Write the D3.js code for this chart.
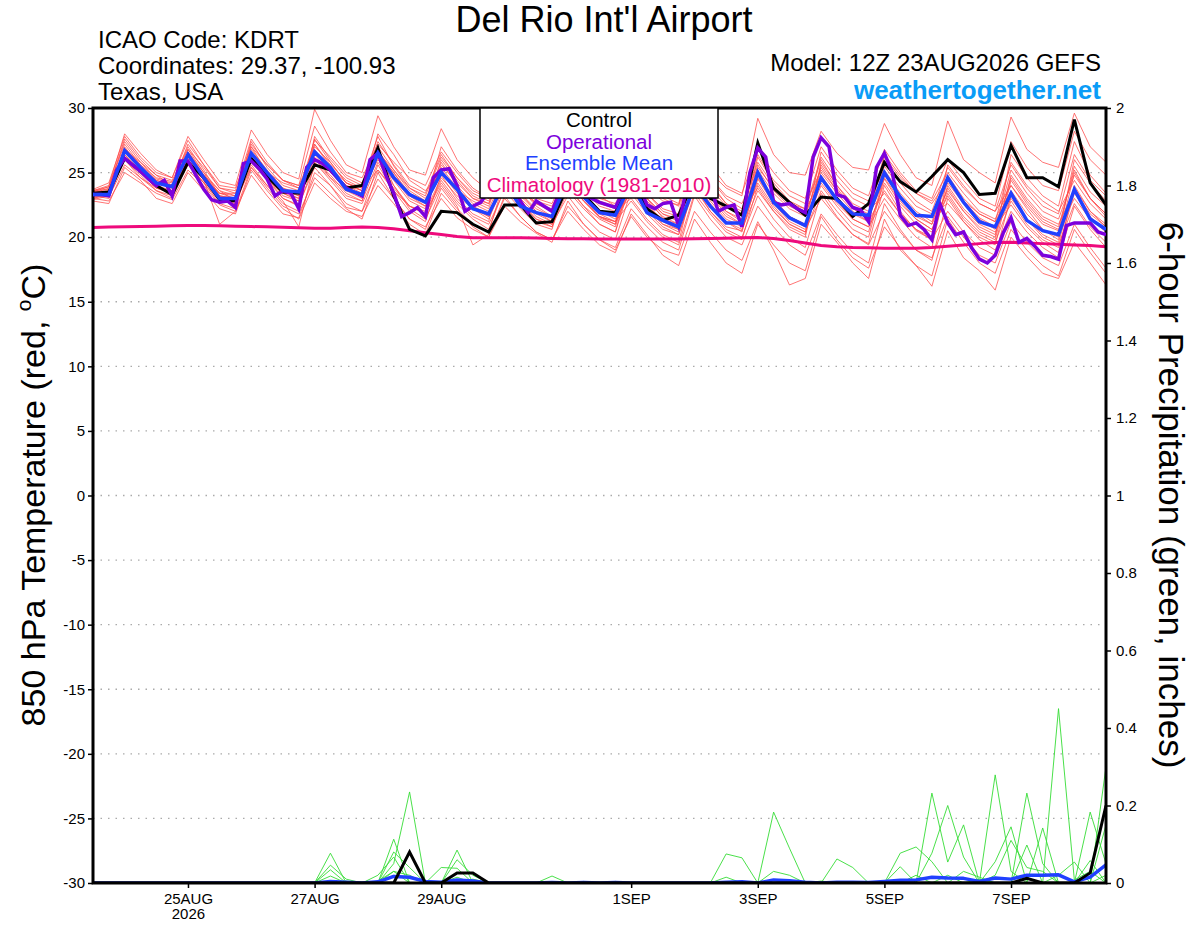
<!DOCTYPE html>
<html>
<head>
<meta charset="utf-8">
<script src="https://cdn.jsdelivr.net/npm/d3@7"></script>
<style>
  body { margin: 0; background: #fff; }
  svg { display: block; font-family: "Liberation Sans", Arial, sans-serif; }
</style>
</head>
<body>
<div id="root"></div>
<script>
const runStart = "2026-08-23T12:00:00Z";
const runEnd = "2026-09-08T12:00:00Z";

const tempTicks = [-30, -25, -20, -15, -10, -5, 0, 5, 10, 15, 20, 25, 30];
const precipTicks = [0, 0.2, 0.4, 0.6, 0.8, 1, 1.2, 1.4, 1.6, 1.8, 2];
const dateTicks = ["2026-08-25", "2026-08-27", "2026-08-29", "2026-09-01", "2026-09-03", "2026-09-05", "2026-09-07"];
const dateLabels = ["25AUG", "27AUG", "29AUG", "1SEP", "3SEP", "5SEP", "7SEP"];

const legendLabels = ["Control", "Operational", "Ensemble Mean", "Climatology (1981-2010)"];

// 6-hourly, 23AUG 12Z .. 8SEP 12Z
const controlTemp = [23.4, 23.5, 26.1, 25.1, 24.0, 23.3, 25.8, 24.6, 22.9, 22.8, 26.1, 24.7, 23.5, 23.4, 25.6, 25.2,
  23.8, 24.0, 26.9, 23.2, 20.6, 20.1, 22.0, 21.9, 21.0, 20.4, 22.5, 22.5, 21.1, 21.2, 24.0, 23.3,
  22.0, 21.9, 24.5, 22.2, 21.3, 21.7, 24.5, 23.0, 22.4, 21.7, 27.3, 23.8, 22.7, 21.7, 23.1, 23.0,
  21.6, 22.6, 25.8, 24.3, 23.5, 24.7, 26.0, 25.0, 23.3, 23.4, 27.1, 24.6, 24.6, 23.9, 29.1, 24.2, 22.5];

const meanTemp = [23.3, 23.3, 26.7, 25.4, 24.2, 23.9, 26.4, 24.6, 23.0, 23.0, 26.5, 25.0, 23.6, 23.5, 26.6, 25.4,
  23.7, 23.3, 26.5, 24.6, 23.3, 22.7, 25.0, 23.7, 22.2, 21.8, 24.2, 22.4, 21.9, 21.6, 24.4, 23.1,
  21.9, 21.7, 24.2, 21.9, 21.3, 20.8, 24.0, 22.4, 21.1, 21.1, 25.0, 22.7, 21.5, 20.9, 24.6, 22.9,
  21.8, 21.7, 25.0, 23.1, 21.7, 21.6, 24.6, 22.7, 21.2, 20.8, 23.4, 21.3, 20.5, 20.2, 23.7, 21.4, 20.6];

const climoTemp = [20.75, 20.78, 20.8, 20.82, 20.85, 20.88, 20.9, 20.9, 20.88, 20.85, 20.82, 20.8, 20.77, 20.73, 20.7, 20.7,
  20.75, 20.78, 20.75, 20.65, 20.5, 20.35, 20.2, 20.05, 19.95, 19.95, 19.95, 19.95, 19.93, 19.9, 19.88, 19.87,
  19.86, 19.85, 19.85, 19.85, 19.85, 19.85, 19.87, 19.9, 19.92, 19.95, 19.97, 19.9, 19.75, 19.55, 19.35, 19.25,
  19.2, 19.18, 19.15, 19.15, 19.15, 19.2, 19.3, 19.4, 19.5, 19.58, 19.6, 19.55, 19.5, 19.45, 19.4, 19.35, 19.25];

// operational run is 3-hourly
const operationalTemp = [23.3, 23.3, 23.2, 25.2, 26.1, 25.6, 25.1, 24.5, 24.0, 24.4, 23.2, 25.9, 25.9, 24.8, 23.7, 22.9,
  22.7, 22.8, 22.3, 25.7, 25.9, 25.3, 24.5, 23.2, 23.6, 23.4, 22.2, 25.4, 26.0, 25.7, 25.2, 24.5,
  23.8, 23.5, 23.2, 26.0, 26.5, 24.8, 23.4, 21.6, 21.9, 22.3, 21.6, 24.6, 25.2, 25.3, 24.0, 22.0,
  22.4, 22.7, 23.6, 24.6, 25.0, 24.0, 22.8, 21.9, 22.8, 22.4, 22.0, 23.6, 24.6, 24.0, 23.3, 23.0,
  22.7, 22.5, 22.3, 23.6, 25.0, 24.0, 22.5, 22.2, 22.6, 22.7, 20.9, 23.8, 26.0, 25.0, 24.0, 22.0,
  22.3, 22.5, 20.8, 25.0, 26.9, 26.2, 22.7, 22.5, 22.6, 22.2, 21.9, 26.2, 27.7, 27.0, 23.3, 23.1,
  22.3, 22.1, 21.2, 25.4, 26.5, 25.0, 21.7, 20.9, 21.1, 20.6, 19.8, 22.6, 21.1, 20.2, 20.4, 19.2,
  18.3, 18.0, 18.6, 20.3, 21.5, 19.6, 19.9, 19.3, 18.6, 18.5, 18.3, 20.9, 21.1, 21.1, 21.1, 20.4, 20.2];

const memberTemps = [
  [23.6, 24.0, 28.0, 26.5, 25.2, 24.6, 27.8, 26.0, 24.3, 24.0, 28.3, 26.4, 25.0, 24.5, 29.9, 27.5, 25.6, 25.0, 29.4, 27.0, 25.2, 24.8,
    28.4, 26.0, 24.6, 23.6, 26.8, 25.0, 23.8, 23.5, 26.5, 25.6, 24.8, 23.4, 26.0, 24.0, 23.2, 22.6, 27.0, 25.0, 23.8, 23.2,
    29.2, 26.4, 25.0, 24.8, 28.2, 26.5, 25.4, 25.2, 28.8, 26.4, 24.6, 24.0, 29.0, 26.0, 25.0, 24.2, 29.3, 26.8, 25.8, 25.4, 29.6, 27.0, 25.8],
  [23.0, 22.8, 25.0, 24.2, 23.4, 22.9, 25.2, 24.0, 22.5, 22.0, 24.8, 23.2, 21.8, 21.5, 25.0, 24.0, 22.3, 22.0, 24.5, 23.0, 21.4, 20.8,
    23.0, 21.5, 20.6, 20.0, 22.4, 21.2, 20.3, 19.6, 22.8, 21.0, 19.8, 19.0, 21.6, 20.0, 19.0, 18.6, 22.0, 20.4, 19.0, 18.2,
    21.2, 19.0, 16.3, 16.8, 21.0, 19.6, 18.0, 16.8, 21.4, 19.0, 17.8, 16.2, 20.5, 18.4, 17.4, 15.9, 20.0, 18.5, 17.2, 16.8, 19.6, 18.0, 16.3],
  [23.4, 23.8, 27.6, 26.0, 24.8, 24.0, 26.8, 25.0, 23.6, 23.2, 27.4, 25.4, 24.0, 23.6, 27.5, 26.2, 24.8, 24.2, 27.8, 25.5, 23.8, 23.0,
    25.2, 23.6, 22.4, 21.6, 25.0, 23.2, 22.0, 21.2, 24.2, 22.8, 21.5, 21.0, 25.5, 23.8, 22.8, 22.5, 26.5, 24.5, 23.0, 22.2,
    25.8, 24.0, 22.6, 22.0, 26.0, 24.0, 22.4, 21.6, 26.2, 24.6, 23.4, 22.8, 25.0, 23.4, 22.0, 21.4, 24.0, 22.4, 21.0, 20.5, 25.5, 23.5, 22.4],
  [23.2, 23.4, 26.8, 25.8, 24.5, 24.2, 27.0, 25.2, 23.2, 23.0, 26.5, 25.0, 24.2, 23.8, 26.0, 24.8, 23.4, 22.8, 26.8, 24.0, 22.4, 21.8,
    24.4, 22.8, 21.6, 21.0, 23.6, 22.2, 21.0, 20.6, 25.0, 23.2, 22.0, 21.8, 23.4, 21.8, 20.6, 20.2, 24.0, 22.0, 20.8, 20.5,
    24.5, 22.6, 21.2, 20.6, 23.0, 21.5, 20.2, 19.5, 24.0, 22.0, 20.5, 19.8, 22.0, 20.4, 19.2, 18.6, 23.2, 21.4, 20.0, 19.4, 22.6, 20.8, 19.6],
  [23.5, 23.9, 27.2, 25.6, 24.6, 24.3, 26.2, 24.5, 23.4, 23.4, 26.8, 25.2, 23.8, 23.2, 27.0, 25.8, 24.2, 23.6, 26.0, 24.4, 22.8, 22.2,
    26.0, 24.4, 23.0, 22.4, 25.6, 24.0, 22.8, 22.4, 24.8, 23.0, 21.6, 21.2, 24.6, 23.0, 21.8, 21.2, 26.0, 24.2, 22.6, 22.0,
    23.8, 22.0, 20.6, 20.0, 25.6, 23.8, 22.2, 21.6, 24.5, 22.6, 21.4, 20.6, 23.8, 22.0, 20.6, 20.0, 26.4, 24.6, 23.2, 22.4, 27.4, 24.8, 23.4],
  [23.3, 23.5, 26.4, 25.0, 24.0, 23.6, 26.6, 25.0, 23.0, 22.6, 25.6, 24.0, 22.6, 22.0, 27.8, 26.0, 24.6, 24.0, 27.0, 25.2, 23.6, 22.8,
    25.8, 24.0, 22.6, 22.0, 24.0, 22.6, 21.4, 20.8, 23.6, 22.2, 21.0, 20.4, 24.8, 23.0, 21.5, 20.8, 25.2, 23.2, 21.8, 21.0,
    26.2, 24.2, 22.8, 22.2, 24.2, 22.6, 21.4, 20.8, 23.0, 21.4, 20.0, 19.2, 24.6, 22.8, 21.5, 20.8, 22.5, 20.8, 19.6, 18.8, 24.0, 22.0, 21.0],
  [22.9, 23.2, 26.0, 24.8, 23.6, 23.0, 25.8, 24.2, 22.8, 22.6, 26.0, 24.4, 23.0, 22.5, 25.4, 24.0, 22.6, 22.0, 25.6, 23.6, 22.0, 21.2,
    24.8, 23.0, 21.8, 21.2, 26.0, 24.4, 23.0, 22.6, 25.4, 23.6, 22.4, 22.0, 23.0, 21.4, 20.2, 19.6, 24.6, 22.8, 21.4, 20.8,
    25.0, 23.0, 21.6, 21.0, 24.8, 23.0, 21.8, 21.2, 25.5, 23.8, 22.4, 21.8, 22.6, 21.2, 20.0, 19.4, 24.4, 22.6, 21.2, 20.6, 23.0, 21.4, 20.4],
  [23.7, 24.2, 27.8, 26.2, 25.0, 24.6, 27.5, 25.6, 24.0, 23.8, 27.0, 25.6, 24.4, 24.0, 28.6, 26.6, 25.0, 24.6, 27.2, 25.8, 24.6, 24.0,
    26.6, 25.0, 23.6, 23.0, 26.4, 24.8, 23.4, 23.0, 25.8, 24.2, 23.0, 22.6, 25.0, 23.4, 22.2, 21.8, 27.6, 25.6, 24.0, 23.4,
    26.8, 25.0, 23.6, 23.0, 27.0, 25.2, 23.8, 23.2, 26.8, 25.0, 23.6, 23.0, 26.0, 24.4, 23.0, 22.4, 27.4, 25.4, 24.0, 23.6, 28.2, 26.0, 24.8],
  [22.8, 22.6, 25.4, 24.4, 23.0, 22.6, 25.0, 23.6, 22.2, 21.8, 25.2, 23.6, 22.2, 21.4, 24.2, 23.0, 22.0, 21.6, 24.0, 22.6, 21.0, 20.2,
    23.4, 22.0, 20.8, 20.0, 23.2, 21.6, 20.4, 19.8, 22.4, 21.0, 19.8, 19.2, 22.2, 20.8, 19.6, 19.0, 23.2, 21.4, 20.0, 19.4,
    22.4, 20.8, 19.4, 18.6, 21.8, 20.2, 18.8, 18.0, 22.6, 20.6, 19.0, 18.4, 21.6, 20.0, 18.6, 18.0, 21.2, 19.6, 18.4, 17.8, 21.0, 19.2, 17.6],
  [23.1, 23.6, 26.2, 25.2, 24.2, 23.8, 26.0, 24.6, 23.4, 23.2, 27.2, 25.6, 24.4, 24.0, 26.8, 25.2, 23.6, 23.0, 26.4, 25.0, 23.4, 22.8,
    25.4, 23.8, 22.4, 21.8, 24.6, 23.0, 21.8, 21.2, 24.0, 22.4, 21.0, 20.4, 24.2, 22.6, 21.2, 20.6, 25.8, 24.0, 22.6, 21.8,
    24.8, 23.0, 21.4, 20.8, 26.6, 24.8, 23.4, 22.8, 25.2, 23.4, 22.0, 21.2, 24.2, 22.6, 21.4, 20.6, 25.2, 23.4, 22.0, 21.4, 24.8, 23.0, 21.8],
  [23.4, 23.2, 27.0, 25.4, 24.0, 23.4, 26.4, 24.8, 23.6, 22.8, 26.2, 24.8, 23.4, 22.8, 26.6, 25.2, 24.0, 23.4, 28.0, 26.4, 24.4, 23.6,
    25.0, 23.4, 22.2, 21.4, 24.2, 22.8, 21.4, 21.0, 24.6, 22.8, 21.6, 21.0, 25.2, 23.4, 22.0, 21.6, 24.8, 23.2, 22.0, 21.2,
    25.6, 23.6, 22.4, 21.8, 25.0, 23.4, 22.0, 21.2, 23.6, 21.8, 20.6, 20.0, 25.6, 24.0, 22.6, 22.0, 24.0, 22.2, 20.6, 19.8, 25.0, 23.0, 21.6],
  [23.6, 23.7, 26.6, 25.4, 24.4, 24.0, 27.2, 25.6, 23.8, 23.4, 25.8, 24.4, 23.4, 23.0, 27.2, 25.6, 24.4, 23.8, 27.4, 25.6, 24.0, 23.4,
    26.4, 24.6, 23.4, 22.8, 25.2, 23.6, 22.6, 22.0, 26.2, 24.4, 23.2, 22.4, 24.4, 22.8, 21.6, 21.0, 25.4, 23.6, 22.0, 21.4,
    25.2, 23.4, 22.2, 21.6, 25.4, 23.6, 22.2, 21.6, 25.0, 23.2, 21.8, 21.0, 24.8, 23.0, 21.8, 21.2, 23.6, 21.8, 20.6, 20.0, 26.0, 24.2, 22.8],
  [23.0, 23.3, 26.0, 24.6, 23.6, 23.2, 25.6, 24.2, 23.2, 22.8, 25.4, 23.8, 22.4, 21.8, 24.6, 23.4, 22.2, 21.4, 25.0, 23.0, 21.4, 20.6,
    23.8, 22.2, 21.0, 20.4, 24.4, 22.8, 21.6, 21.0, 23.2, 21.6, 20.4, 19.8, 23.6, 22.0, 20.8, 20.2, 23.8, 22.0, 20.6, 20.0,
    23.2, 21.4, 20.0, 19.2, 23.4, 21.6, 20.2, 19.4, 22.0, 20.4, 19.0, 18.2, 23.0, 21.2, 19.8, 19.0, 22.0, 20.4, 19.2, 18.4, 22.4, 20.6, 19.2],
  [23.3, 23.1, 25.6, 24.6, 23.8, 23.4, 26.2, 24.6, 23.0, 22.4, 26.6, 24.8, 23.2, 22.8, 26.2, 24.6, 23.6, 23.2, 26.6, 25.0, 23.2, 22.6,
    27.0, 25.2, 23.8, 23.0, 25.4, 23.8, 22.4, 21.6, 24.4, 23.0, 22.0, 21.4, 23.8, 22.2, 21.0, 20.4, 25.0, 23.0, 21.6, 21.0,
    24.2, 22.4, 21.0, 20.4, 24.6, 22.8, 21.4, 20.8, 24.2, 22.4, 21.0, 20.4, 23.4, 21.6, 20.4, 19.8, 24.8, 23.0, 21.6, 21.0, 23.6, 21.8, 20.8],
  [23.5, 23.6, 26.9, 25.6, 24.4, 24.0, 26.4, 24.8, 23.2, 23.0, 26.0, 24.6, 23.8, 23.4, 27.2, 25.4, 23.8, 23.2, 26.2, 24.6, 23.0, 22.4,
    25.6, 24.2, 23.0, 22.6, 25.8, 24.0, 22.6, 22.0, 25.2, 23.6, 22.6, 22.2, 25.6, 24.2, 23.0, 22.4, 26.4, 24.6, 23.2, 22.6,
    25.4, 23.8, 22.6, 22.2, 26.2, 24.4, 23.0, 22.4, 25.8, 24.2, 22.8, 22.0, 25.4, 23.8, 22.6, 22.0, 25.6, 23.8, 22.4, 21.8, 26.4, 24.4, 23.2],
  [23.2, 23.0, 26.2, 25.0, 23.8, 23.4, 25.6, 24.2, 22.6, 22.2, 26.4, 24.6, 23.0, 22.4, 25.8, 24.4, 23.0, 22.6, 25.2, 23.8, 22.4, 21.8,
    24.2, 22.6, 21.4, 20.6, 23.8, 22.4, 21.2, 20.8, 24.8, 23.0, 21.8, 21.2, 22.8, 21.2, 20.0, 19.4, 23.4, 21.8, 20.4, 19.8,
    24.0, 22.2, 21.0, 20.4, 23.6, 22.0, 20.6, 20.0, 24.6, 22.8, 21.4, 20.6, 23.2, 21.4, 20.2, 19.6, 22.8, 21.0, 19.8, 19.2, 23.4, 21.6, 20.4],
  [23.6, 23.9, 27.4, 25.8, 24.8, 24.4, 26.8, 25.4, 23.8, 23.6, 27.6, 25.8, 24.4, 23.8, 26.4, 25.0, 24.0, 23.6, 26.6, 25.2, 23.8, 23.2,
    26.2, 24.6, 23.2, 22.6, 25.4, 23.8, 22.6, 22.2, 25.6, 24.0, 22.8, 22.4, 24.0, 22.4, 21.4, 21.0, 25.6, 23.8, 22.4, 21.8,
    26.4, 24.4, 23.2, 22.6, 25.2, 23.6, 22.4, 21.8, 26.4, 24.8, 23.4, 22.6, 24.4, 22.8, 21.8, 21.2, 25.8, 24.0, 22.8, 22.0, 24.4, 22.6, 21.4],
  [23.4, 23.4, 26.8, 25.2, 24.2, 23.8, 26.0, 24.4, 23.0, 22.8, 26.2, 24.8, 23.6, 23.2, 26.6, 25.4, 24.2, 23.8, 25.2, 23.6, 22.4, 22.0,
    24.6, 23.2, 22.2, 21.6, 25.0, 23.4, 22.2, 21.6, 23.8, 22.4, 21.4, 20.8, 24.6, 23.0, 21.8, 21.4, 24.4, 22.6, 21.2, 20.6,
    23.6, 22.0, 20.8, 20.2, 25.8, 24.0, 22.6, 22.0, 23.4, 21.8, 20.6, 19.8, 24.0, 22.2, 21.0, 20.4, 23.0, 21.4, 20.2, 19.6, 23.8, 22.0, 20.8],
  [23.0, 23.4, 26.4, 25.2, 23.8, 23.6, 26.6, 24.8, 23.4, 23.0, 27.0, 25.0, 23.6, 23.0, 27.6, 25.8, 24.2, 23.6, 26.8, 24.8, 23.2, 22.4,
    25.0, 23.6, 22.8, 22.2, 24.8, 23.4, 22.0, 21.4, 24.4, 22.8, 21.6, 21.2, 23.6, 22.2, 21.0, 20.6, 24.2, 22.4, 21.2, 20.4,
    24.6, 22.8, 21.6, 21.0, 24.0, 22.4, 21.0, 20.4, 24.8, 23.0, 21.6, 21.0, 23.6, 22.0, 20.8, 20.2, 24.6, 22.8, 21.4, 20.8, 25.2, 23.0, 21.8],
  [23.2, 23.6, 26.0, 25.0, 24.0, 23.4, 26.0, 24.4, 21.0, 22.0, 25.4, 24.0, 22.8, 20.8, 25.8, 24.6, 23.2, 22.8, 25.8, 24.0, 22.2, 21.4,
    24.0, 22.4, 19.4, 20.2, 23.0, 21.6, 20.4, 19.8, 22.0, 20.6, 19.4, 18.8, 21.8, 20.2, 18.6, 17.8, 21.4, 19.6, 18.0, 17.2,
    21.0, 19.4, 18.0, 17.4, 21.6, 19.8, 18.4, 17.6, 20.8, 19.2, 17.8, 17.0, 21.4, 19.6, 18.0, 17.2, 20.6, 19.0, 17.8, 17.0, 20.6, 18.8, 17.2]
];

const controlPrecip = [0, 0, 0, 0, 0, 0, 0, 0, 0, 0, 0, 0, 0, 0, 0, 0, 0, 0, 0, 0,
  0.08, 0, 0, 0.026, 0.026, 0, 0, 0, 0, 0, 0, 0, 0, 0, 0, 0, 0, 0, 0, 0,
  0, 0, 0, 0, 0, 0, 0, 0, 0, 0, 0, 0, 0, 0, 0, 0, 0, 0, 0, 0.012, 0, 0, 0, 0.026, 0.2];

const meanPrecip = [0, 0, 0, 0, 0, 0, 0, 0, 0, 0, 0, 0, 0, 0, 0, 0.004, 0.002, 0, 0.003, 0.017,
  0.015, 0.004, 0.002, 0.008, 0.005, 0, 0, 0, 0, 0.001, 0, 0.001, 0, 0.001, 0, 0, 0, 0, 0, 0,
  0.002, 0.003, 0, 0.008, 0.006, 0.002, 0, 0.002, 0.002, 0.001, 0.004, 0.007, 0.008, 0.015, 0.013,
  0.012, 0.004, 0.013, 0.01, 0.02, 0.02, 0.021, 0.003, 0.015, 0.047];

const memberPrecips = [
  [0, 0, 0, 0, 0, 0, 0, 0, 0, 0, 0, 0, 0, 0, 0, 0.077, 0, 0, 0, 0.05, 0.235, 0, 0, 0, 0, 0, 0, 0, 0, 0, 0, 0, 0,
    0, 0, 0, 0, 0, 0, 0, 0.075, 0.065, 0, 0, 0, 0, 0, 0, 0, 0, 0, 0, 0, 0.077, 0.2, 0.067, 0, 0, 0, 0, 0, 0.45, 0.008, 0.03, 0],
  [0, 0, 0, 0, 0, 0, 0, 0, 0, 0, 0, 0, 0, 0, 0, 0.046, 0.01, 0, 0, 0.113, 0, 0, 0, 0.085, 0, 0, 0, 0, 0, 0, 0, 0, 0,
    0, 0, 0, 0, 0, 0, 0, 0, 0, 0, 0.183, 0.09, 0, 0, 0, 0, 0, 0, 0, 0, 0, 0, 0, 0, 0.279, 0.03, 0, 0.142, 0, 0, 0, 0.3],
  [0, 0, 0, 0, 0, 0, 0, 0, 0, 0, 0, 0, 0, 0, 0, 0.034, 0, 0, 0, 0.08, 0.04, 0, 0, 0.06, 0.02, 0, 0, 0, 0, 0, 0, 0, 0,
    0, 0, 0, 0, 0, 0, 0, 0, 0, 0, 0, 0, 0, 0, 0.062, 0.04, 0, 0, 0, 0, 0.232, 0.054, 0.15, 0, 0, 0, 0.098, 0, 0, 0, 0.183, 0.05],
  [0, 0, 0, 0, 0, 0, 0, 0, 0, 0, 0, 0, 0, 0, 0, 0.018, 0, 0, 0.02, 0.067, 0, 0, 0.04, 0.038, 0, 0, 0, 0, 0, 0, 0, 0, 0,
    0, 0, 0, 0, 0, 0, 0, 0.015, 0, 0, 0, 0, 0, 0, 0, 0, 0, 0, 0.077, 0.093, 0.055, 0, 0, 0, 0.055, 0.145, 0, 0, 0.02, 0.054, 0, 0.15],
  [0, 0, 0, 0, 0, 0, 0, 0, 0, 0, 0, 0, 0, 0, 0, 0, 0, 0, 0, 0.03, 0.02, 0, 0, 0.015, 0, 0, 0, 0, 0, 0.018, 0, 0, 0,
    0, 0, 0, 0, 0, 0, 0, 0, 0, 0, 0.03, 0.02, 0, 0, 0, 0, 0, 0, 0.042, 0, 0, 0, 0.03, 0.015, 0, 0, 0.232, 0.05, 0, 0, 0, 0],
  [0, 0, 0, 0, 0, 0, 0, 0, 0, 0, 0, 0, 0, 0, 0, 0, 0, 0, 0.005, 0.03, 0, 0, 0, 0, 0.01, 0, 0, 0, 0, 0, 0, 0, 0,
    0, 0, 0, 0, 0, 0, 0, 0, 0, 0, 0, 0, 0, 0, 0, 0, 0, 0, 0, 0.02, 0, 0.02, 0, 0, 0.02, 0.11, 0.04, 0.03, 0, 0, 0.058, 0],
  [0, 0, 0, 0, 0, 0, 0, 0, 0, 0, 0, 0, 0, 0, 0, 0, 0.005, 0, 0, 0.02, 0.015, 0, 0, 0, 0, 0, 0, 0, 0, 0, 0, 0.004, 0,
    0.004, 0, 0, 0, 0, 0, 0, 0, 0, 0, 0.008, 0, 0, 0.005, 0, 0, 0, 0, 0, 0, 0, 0, 0, 0.01, 0, 0, 0, 0, 0, 0, 0, 0.02]
];

meteogram(window.d3);

function meteogram(d3) {
  const width = 1200;
  const height = 927;
  const plot = { left: 93, right: 1106, top: 108, bottom: 883 };

  const start = new Date(runStart);
  const end = new Date(runEnd);
  const times6 = d3.utcHour.every(6).range(start, d3.utcHour.offset(end, 1));
  const times3 = d3.utcHour.every(3).range(start, d3.utcHour.offset(end, 1));

  const x = d3.scaleUtc().domain([start, end]).range([plot.left, plot.right]);
  const yT = d3.scaleLinear().domain([-30, 30]).range([plot.bottom, plot.top]);
  const yP = d3.scaleLinear().domain([0, 2]).range([plot.bottom, plot.top]);

  const svg = d3.select("#root").append("svg")
    .attr("width", width)
    .attr("height", height);

  svg.append("rect").attr("width", width).attr("height", height).attr("fill", "#fff");

  svg.append("defs").append("clipPath")
    .attr("id", "plot-clip")
    .append("rect")
    .attr("x", plot.left)
    .attr("y", plot.top)
    .attr("width", plot.right - plot.left)
    .attr("height", plot.bottom - plot.top);

  // header
  svg.append("text")
    .attr("x", 604).attr("y", 32)
    .attr("text-anchor", "middle")
    .attr("font-size", 36)
    .text("Del Rio Int'l Airport");

  svg.selectAll("text.info")
    .data(["ICAO Code: KDRT", "Coordinates: 29.37, -100.93", "Texas, USA"])
    .join("text")
    .attr("class", "info")
    .attr("x", 98)
    .attr("y", (d, i) => 48 + i * 26)
    .attr("font-size", 24)
    .text(d => d);

  svg.append("text")
    .attr("x", 1101).attr("y", 71)
    .attr("text-anchor", "end")
    .attr("font-size", 24)
    .text("Model: 12Z 23AUG2026 GEFS");

  svg.append("text")
    .attr("x", 1101).attr("y", 99)
    .attr("text-anchor", "end")
    .attr("font-size", 26)
    .attr("font-weight", "bold")
    .attr("fill", "#0a9cf7")
    .text("weathertogether.net");

  // grid
  svg.append("g")
    .selectAll("line")
    .data(tempTicks.slice(1, -1))
    .join("line")
    .attr("x1", plot.left).attr("x2", plot.right)
    .attr("y1", d => yT(d)).attr("y2", d => yT(d))
    .attr("stroke", "#aaa")
    .attr("stroke-width", 1.3)
    .attr("stroke-dasharray", "1.5,6");

  const chart = svg.append("g").attr("clip-path", "url(#plot-clip)");

  const tLine = times => d3.line().x((d, i) => x(times[i])).y(d => yT(d));
  const pLine = d3.line().x((d, i) => x(times6[i])).y(d => yP(d));

  chart.append("g")
    .selectAll("path")
    .data(memberPrecips)
    .join("path")
    .attr("d", pLine)
    .attr("fill", "none")
    .attr("stroke", "#35dc35")
    .attr("stroke-width", 0.9);

  chart.append("path")
    .attr("d", pLine(meanPrecip))
    .attr("fill", "none")
    .attr("stroke", "#2040ff")
    .attr("stroke-width", 3.5)
    .attr("stroke-linejoin", "round");

  chart.append("g")
    .selectAll("path")
    .data(memberTemps)
    .join("path")
    .attr("d", tLine(times6))
    .attr("fill", "none")
    .attr("stroke", "#ff4a4a")
    .attr("stroke-opacity", 0.85)
    .attr("stroke-width", 0.9);

  chart.append("path")
    .attr("d", tLine(times6)(climoTemp))
    .attr("fill", "none")
    .attr("stroke", "#ee0a7c")
    .attr("stroke-width", 3);

  // frame
  svg.append("rect")
    .attr("x", plot.left).attr("y", plot.top)
    .attr("width", plot.right - plot.left)
    .attr("height", plot.bottom - plot.top)
    .attr("fill", "none")
    .attr("stroke", "#000")
    .attr("stroke-width", 3);

  const lines = svg.append("g").attr("clip-path", "url(#plot-clip)");

  lines.append("path")
    .attr("d", pLine(controlPrecip))
    .attr("fill", "none")
    .attr("stroke", "#000")
    .attr("stroke-width", 3);

  lines.append("path")
    .attr("d", tLine(times6)(controlTemp))
    .attr("fill", "none")
    .attr("stroke", "#000")
    .attr("stroke-width", 3);

  lines.append("path")
    .attr("d", tLine(times3)(operationalTemp))
    .attr("fill", "none")
    .attr("stroke", "#7d00dc")
    .attr("stroke-width", 3.5);

  lines.append("path")
    .attr("d", tLine(times6)(meanTemp))
    .attr("fill", "none")
    .attr("stroke", "#2040ff")
    .attr("stroke-width", 3.5);

  // axes
  const styleAxis = g => {
    g.attr("font-family", null).attr("font-size", 15);
    g.select(".domain").remove();
    g.selectAll(".tick line").attr("stroke-width", 1.5);
    g.selectAll(".tick text").attr("fill", "#000");
  };

  svg.append("g")
    .attr("transform", `translate(${plot.left},0)`)
    .call(d3.axisLeft(yT).tickValues(tempTicks).tickFormat(d => String(d)).tickSize(5).tickPadding(3))
    .call(styleAxis);

  svg.append("g")
    .attr("transform", `translate(${plot.right},0)`)
    .call(d3.axisRight(yP).tickValues(precipTicks).tickFormat(d => String(d)).tickSize(5).tickPadding(5))
    .call(styleAxis);

  const xAxis = svg.append("g")
    .attr("transform", `translate(0,${plot.bottom})`)
    .call(d3.axisBottom(x)
      .tickValues(dateTicks.map(d => new Date(d + "T00:00:00Z")))
      .tickFormat((d, i) => dateLabels[i])
      .tickSize(5)
      .tickPadding(5))
    .call(styleAxis);

  xAxis.select(".tick text")
    .append("tspan")
    .attr("x", 0)
    .attr("dy", "1.05em")
    .text(d => d.getUTCFullYear());

  // axis titles
  const leftTitle = svg.append("text")
    .attr("transform", "translate(45,495) rotate(-90)")
    .attr("text-anchor", "middle")
    .attr("font-size", 34)
    .text("850 hPa Temperature (red, ");
  leftTitle.append("tspan").attr("font-size", 21).attr("dy", -14).text("o");
  leftTitle.append("tspan").attr("dy", 14).text("C)");

  svg.append("text")
    .attr("transform", "translate(1159,495) rotate(90)")
    .attr("text-anchor", "middle")
    .attr("font-size", 35)
    .text("6-hour Precipitation (green, inches)");

  // legend
  const legend = svg.append("g");
  legend.append("rect")
    .attr("x", 480).attr("y", plot.top)
    .attr("width", 238).attr("height", 90)
    .attr("fill", "#fff")
    .attr("stroke", "#000")
    .attr("stroke-width", 1.5);

  const legendColor = d3.scaleOrdinal(legendLabels, ["#000", "#7d00dc", "#2040ff", "#ee0a7c"]);

  legend.selectAll("text")
    .data(legendLabels)
    .join("text")
    .attr("x", 599)
    .attr("y", (d, i) => 127 + i * 21.6)
    .attr("text-anchor", "middle")
    .attr("font-size", 20.5)
    .attr("fill", d => legendColor(d))
    .text(d => d);
}
</script>
</body>
</html>
